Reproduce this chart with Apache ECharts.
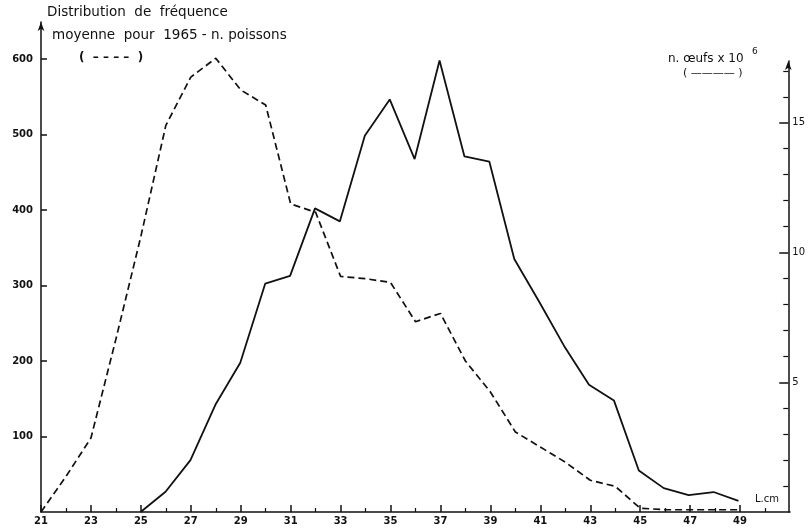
<!DOCTYPE html>
<html>
<head>
<meta charset="utf-8">
<script src="https://cdn.jsdelivr.net/npm/echarts@6/dist/echarts.min.js"></script>
<style>html,body{margin:0;padding:0;background:#fff}#c{width:808px;height:529px}</style>
</head>
<body>
<div id="c"></div>
<script>
// Lengths (cm) for the fish frequency distribution (dashed, left axis)
const lengthsPoissons = [21,22,23,24,25,26,27,28,29,30,31,32,33,34,35,36,37,38,39,40,41,42,43,44,45,46,47,48,49];
const poissons = [0,47,98,229,365,512,576,601,559,539,408,397,312,309,304,252,263,200,159,106,86,66,42,34,5,3,3,3,3];
// Lengths (cm) for eggs (solid, right axis, x 10^6)
const lengthsOeufs = [25,26,27,28,29,30,31,32,33,34,35,36,37,38,39,40,41,42,43,44,45,46,47,48,49];
const oeufs = [0,0.78,2.0,4.13,5.75,8.8,9.1,11.7,11.2,14.5,15.9,13.6,17.4,13.7,13.5,9.75,8.1,6.4,4.9,4.3,1.6,0.92,0.65,0.77,0.43];
// Tick values
const xMajorTicks = [21,23,25,27,29,31,33,35,37,39,41,43,45,47,49];
const xMinorTicks = [22,24,26,28,30,32,34,36,38,40,42,44,46,48,50];
const leftTicks = [100,200,300,400,500,600];
const rightMajorTicks = [5,10,15];
const rightMinorTicks = [1,2,3,4,6,7,8,9,11,12,13,14,16,17];

const ink = '#111';
const font = 'DejaVu Sans';
const chart = echarts.init(document.getElementById('c'));
chart.setOption({
  backgroundColor: '#fff',
  animation: false,
  grid: [
    {left: 41, right: 18, top: 22, bottom: 17},
    {left: 41, right: 18, top: 61, bottom: 17}
  ],
  xAxis: [
    {gridIndex: 0, type: 'value', min: 21, max: 51, position: 'bottom',
     axisLine: {show: true, lineStyle: {color: ink, width: 1.5}},
     axisTick: {show: true, inside: true, length: 7, customValues: xMajorTicks, lineStyle: {color: ink, width: 1.5}},
     axisLabel: {show: true, customValues: xMajorTicks, color: ink, fontFamily: font, fontSize: 10, fontWeight: 'bold', margin: 4},
     splitLine: {show: false}},
    {gridIndex: 0, type: 'value', min: 21, max: 51, position: 'bottom',
     axisLine: {show: false},
     axisTick: {show: true, inside: true, length: 4, customValues: xMinorTicks, lineStyle: {color: ink, width: 1.2}},
     axisLabel: {show: false}, splitLine: {show: false}},
    {gridIndex: 1, type: 'value', min: 21, max: 51, show: false}
  ],
  yAxis: [
    {gridIndex: 0, type: 'value', min: 0, max: 649, position: 'left',
     axisLine: {show: true, symbol: ['none', 'arrow'], symbolSize: [5, 9], lineStyle: {color: ink, width: 1.5}},
     axisTick: {show: true, inside: true, length: 6, customValues: leftTicks, lineStyle: {color: ink, width: 1.5}},
     axisLabel: {show: true, customValues: leftTicks, color: ink, fontFamily: font, fontSize: 10, fontWeight: 'bold', margin: 8},
     splitLine: {show: false}},
    {gridIndex: 1, type: 'value', min: 0, max: 17.38, position: 'right',
     axisLine: {show: true, symbol: ['none', 'arrow'], symbolSize: [5, 9], lineStyle: {color: ink, width: 1.5}},
     axisTick: {show: true, inside: true, length: 9, customValues: rightMajorTicks, lineStyle: {color: ink, width: 1.5}},
     axisLabel: {show: true, customValues: rightMajorTicks, color: ink, fontFamily: font, fontSize: 10, margin: 4},
     splitLine: {show: false}},
    {gridIndex: 1, type: 'value', min: 0, max: 17.38, position: 'right',
     axisLine: {show: false},
     axisTick: {show: true, inside: true, length: 5, customValues: rightMinorTicks, lineStyle: {color: ink, width: 1.2}},
     axisLabel: {show: false}, splitLine: {show: false}}
  ],
  series: [
    {type: 'line', xAxisIndex: 0, yAxisIndex: 0, symbol: 'none',
     data: lengthsPoissons.map((x, i) => [x, poissons[i]]),
     lineStyle: {color: ink, width: 1.7, type: [7, 4]}},
    {type: 'line', xAxisIndex: 2, yAxisIndex: 1, symbol: 'none',
     data: lengthsOeufs.map((x, i) => [x, oeufs[i]]),
     lineStyle: {color: ink, width: 1.8, type: 'solid'}}
  ],
  graphic: [
    {type: 'text', left: 47, top: 5, style: {text: 'Distribution  de  fréquence', font: '13.5px "DejaVu Sans"', fill: ink}},
    {type: 'text', left: 52, top: 28, style: {text: 'moyenne  pour  1965 - n. poissons', font: '13.5px "DejaVu Sans"', fill: ink}},
    {type: 'text', left: 79, top: 52, style: {text: '(  – – – –  )', font: 'bold 12px "DejaVu Sans"', fill: ink}},
    {type: 'text', left: 668, top: 53, style: {text: 'n. œufs x 10', font: '12px "DejaVu Sans"', fill: ink}},
    {type: 'text', left: 752, top: 47, style: {text: '6', font: '9px "DejaVu Sans"', fill: ink}},
    {type: 'text', left: 683, top: 68, style: {text: '( ———— )', font: '11px "DejaVu Sans"', fill: ink}},
    {type: 'text', left: 755, top: 494, style: {text: 'L.cm', font: '10px "DejaVu Sans"', fill: ink}}
  ]
});
</script>
</body>
</html>
